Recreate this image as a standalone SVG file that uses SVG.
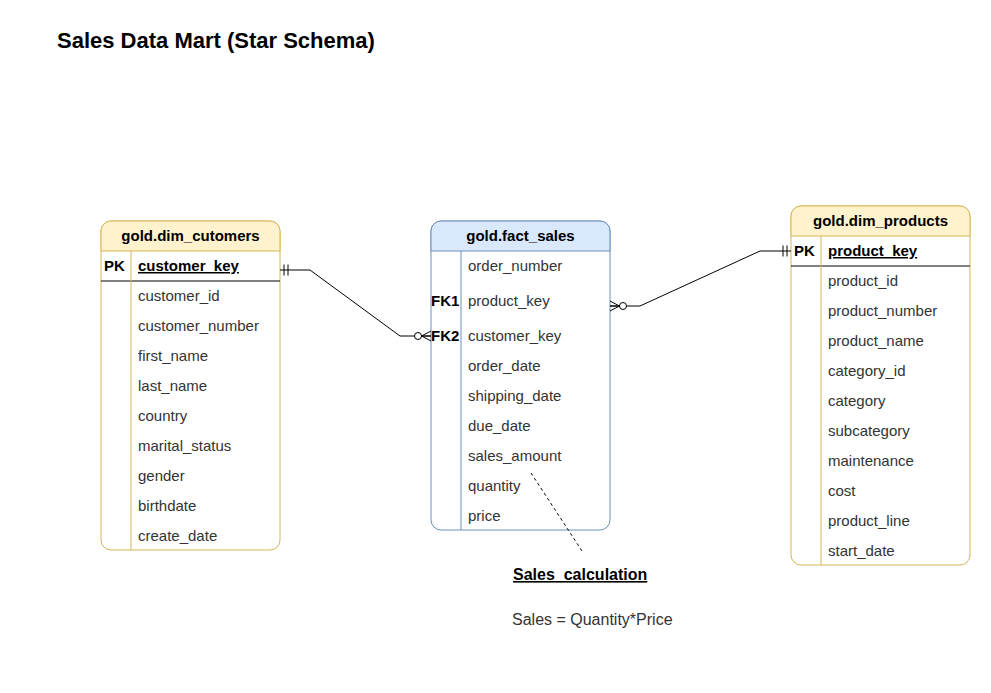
<svg xmlns="http://www.w3.org/2000/svg" width="991" height="693" viewBox="0 0 991 693">
<style>
text{font-family:"Liberation Sans",Arial,Helvetica,sans-serif;font-size:15px;fill:#333333}
.title{font-size:22px;font-weight:bold;fill:#000}
.hdr{font-weight:bold;fill:#000;text-anchor:middle}
.key{font-weight:bold;fill:#000}
.u{text-decoration:underline}
.note{font-size:16px}
.dimbox{fill:#fff;stroke:#d6b656;stroke-width:1}
.dimhdr{fill:#fff2cc;stroke:#d6b656;stroke-width:1}
.factbox{fill:#fff;stroke:#6c8ebf;stroke-width:1}
.facthdr{fill:#dae8fc;stroke:#6c8ebf;stroke-width:1}
.sep{stroke:#000;stroke-width:1}
.conn{fill:none;stroke:#000;stroke-width:1}
</style>
<defs>
<marker id="one" markerUnits="userSpaceOnUse" markerWidth="24" markerHeight="20" viewBox="0 0 24 20" refX="24" refY="10" orient="auto-start-reverse">
<path d="M16,4.5V15.5M20,4.5V15.5" stroke="#000" stroke-width="1" fill="none"/>
</marker>
<marker id="many" markerUnits="userSpaceOnUse" markerWidth="24" markerHeight="20" viewBox="0 0 24 20" refX="24" refY="10" orient="auto-start-reverse">
<circle cx="11" cy="10" r="3.5" fill="#fff" stroke="#000" stroke-width="1"/>
<path d="M14.5,10H24M14.5,10L24,5M14.5,10L24,15" stroke="#000" stroke-width="1" fill="none"/>
</marker>
</defs>

<text class="title" x="57" y="48">Sales Data Mart (Star Schema)</text>

<g id="dim_customers">
<rect class="dimbox" x="101" y="221" width="179" height="329" rx="10"/>
<path class="dimhdr" d="M101,251V231A10,10 0 0 1 111,221H270A10,10 0 0 1 280,231V251Z"/>
<line class="sep" x1="101" y1="281" x2="280" y2="281"/>
<line x1="131" y1="251" x2="131" y2="550" stroke="#d6b656"/>
<text class="hdr" x="190.5" y="241">gold.dim_cutomers</text>
<text class="key" x="104" y="271">PK</text>
<text class="key u" x="138" y="271">customer_key</text>
<text x="138" y="301">customer_id</text>
<text x="138" y="331">customer_number</text>
<text x="138" y="361">first_name</text>
<text x="138" y="391">last_name</text>
<text x="138" y="421">country</text>
<text x="138" y="451">marital_status</text>
<text x="138" y="481">gender</text>
<text x="138" y="511">birthdate</text>
<text x="138" y="541">create_date</text>
</g>

<g id="fact_sales">
<rect class="factbox" x="431" y="221" width="179" height="309" rx="10"/>
<path class="facthdr" d="M431,251V231A10,10 0 0 1 441,221H600A10,10 0 0 1 610,231V251Z"/>
<line x1="461" y1="251" x2="461" y2="530" stroke="#6c8ebf"/>
<text class="hdr" x="520.5" y="241">gold.fact_sales</text>
<text x="468" y="271">order_number</text>
<text class="key" x="431" y="306">FK1</text>
<text x="468" y="306">product_key</text>
<text class="key" x="431" y="341">FK2</text>
<text x="468" y="341">customer_key</text>
<text x="468" y="371">order_date</text>
<text x="468" y="401">shipping_date</text>
<text x="468" y="431">due_date</text>
<text x="468" y="461">sales_amount</text>
<text x="468" y="491">quantity</text>
<text x="468" y="521">price</text>
</g>

<g id="dim_products">
<rect class="dimbox" x="791" y="206" width="179" height="359" rx="10"/>
<path class="dimhdr" d="M791,236V216A10,10 0 0 1 801,206H960A10,10 0 0 1 970,216V236Z"/>
<line class="sep" x1="791" y1="266" x2="970" y2="266"/>
<line x1="821" y1="236" x2="821" y2="565" stroke="#d6b656"/>
<text class="hdr" x="880.5" y="226">gold.dim_products</text>
<text class="key" x="794" y="256">PK</text>
<text class="key u" x="828" y="256">product_key</text>
<text x="828" y="286">product_id</text>
<text x="828" y="316">product_number</text>
<text x="828" y="346">product_name</text>
<text x="828" y="376">category_id</text>
<text x="828" y="406">category</text>
<text x="828" y="436">subcategory</text>
<text x="828" y="466">maintenance</text>
<text x="828" y="496">cost</text>
<text x="828" y="526">product_line</text>
<text x="828" y="556">start_date</text>
</g>

<g id="connectors">
<path class="conn" d="M280,270H310L400,336H431" marker-start="url(#one)" marker-end="url(#many)"/>
<path class="conn" d="M610,306H640L760,251H791" marker-start="url(#many)" marker-end="url(#one)"/>
<line class="conn" x1="531" y1="473" x2="582" y2="551" stroke-dasharray="3 3"/>
</g>

<g id="note">
<text class="key u note" x="513" y="580">Sales_calculation</text>
<text class="note" x="512" y="625">Sales = Quantity*Price</text>
</g>
</svg>
